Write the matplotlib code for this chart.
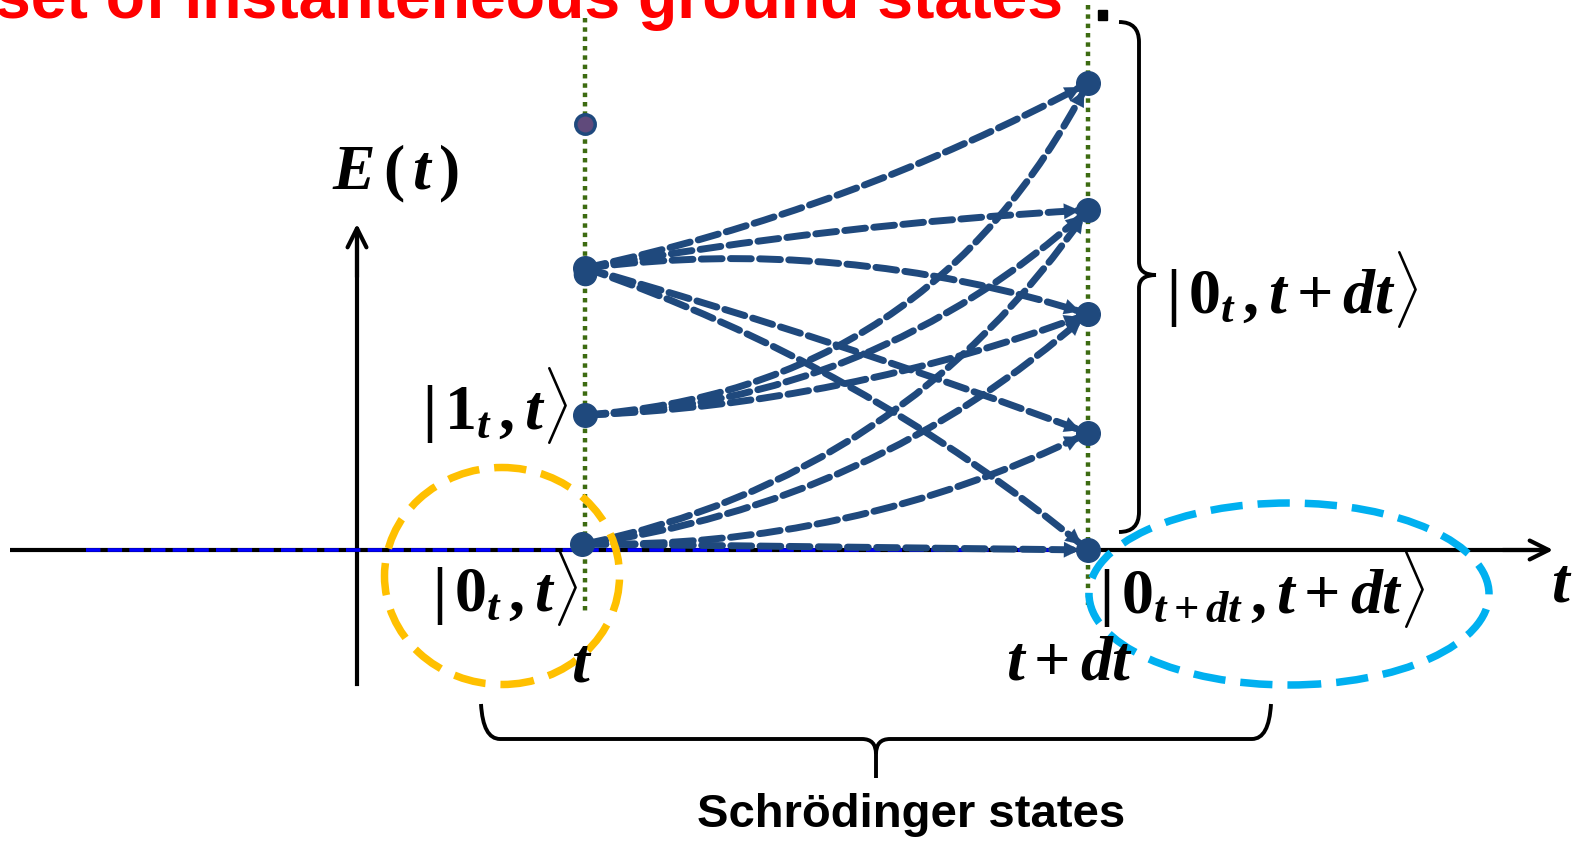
import matplotlib
matplotlib.use('Agg')
import matplotlib.pyplot as plt
from matplotlib.patches import FancyArrowPatch, Ellipse, PathPatch, Rectangle
from matplotlib.path import Path

plt.rcParams['mathtext.fontset'] = 'custom'
plt.rcParams['mathtext.rm'] = 'Liberation Serif:bold'
plt.rcParams['mathtext.it'] = 'Liberation Serif:bold:italic'
plt.rcParams['mathtext.bf'] = 'Liberation Serif:bold'

# ---------------- data ----------------
# energies (arbitrary units, 0 = ground level on the time axis)
left_levels = [6, 135, 282, 426]          # states at time t
right_levels = [0, 117, 236, 340, 467]    # states at time t+dt
# transitions between levels: (from left, to right, curvature)
edge_from = [2, 2, 2, 2, 2, 1, 1, 1, 0, 0, 0, 0]
edge_to   = [4, 3, 2, 1, 0, 4, 3, 2, 3, 2, 1, 0]
edge_curv = [0.07, -0.03, -0.11, -0.02, -0.09, 0.28, 0.18, 0.08, 0.2, 0.15, 0.12, 0.0]

title_text = "set of instanteneous ground states"
bottom_text = "Schrödinger states"
label_E = r'$E\,(\,t\,)$'
label_1t = r'$|\,1_{t}\,,t\rangle$'
label_0t = r'$|\,0_{t}\,,t\rangle$'
label_0t_dt = r'$|\,0_{t}\,,t+dt\rangle$'
label_0tdt = r'$|\,0_{t+dt}\,,t+dt\rangle$'
tick_t = r'$t$'
tick_tdt = r'$t+dt$'
axis_t = r'$t$'

# ---------------- layout ----------------
W, H = 1588, 841
AXIS_Y = 550          # pixel row of the time axis
X_T, X_TDT = 585, 1088
NODE_COLOR = '#1f497d'
GREEN = '#3d6b11'

def py(p):
    """pixel row -> energy coordinate"""
    return AXIS_Y - p

fig = plt.figure(figsize=(W / 100, H / 100), dpi=100)
ax = fig.add_axes([0, 0, 1, 1])
ax.set_xlim(0, W)
ax.set_ylim(AXIS_Y - H, AXIS_Y)
ax.axis('off')

# time axis
ax.plot([10, 1545], [0, 0], color='black', lw=3, zorder=2, solid_capstyle='butt')
ax.annotate('', xy=(1556, 0), xytext=(1500, 0),
            arrowprops=dict(arrowstyle='->', color='black', lw=3, mutation_scale=34), zorder=2)
ax.plot([86, X_TDT], [0, 0], color='#0000ff', lw=2.6, ls=(0, (4, 2)), zorder=3)
# energy axis
ax.plot([357, 357], [py(684), py(240)], color='black', lw=3, zorder=2)
ax.annotate('', xy=(357, py(221)), xytext=(357, py(280)),
            arrowprops=dict(arrowstyle='->', color='black', lw=3, mutation_scale=34), zorder=2)

# dotted time slices
ax.plot([X_T, X_T], [py(18), py(612)], color=GREEN, lw=3.2, ls=(0, (1, 1.1)), zorder=1)
ax.plot([X_TDT, X_TDT], [py(5), py(605)], color=GREEN, lw=3.2, ls=(0, (1, 1.1)), zorder=1)

# transitions
fig.canvas.draw()
to_disp = ax.transData
to_data = ax.transData.inverted()
for i, j, c in zip(edge_from, edge_to, edge_curv):
    A = (X_T, left_levels[i])
    B = (X_TDT, right_levels[j])
    a = FancyArrowPatch(A, B, arrowstyle='-', connectionstyle=f'arc3,rad={c}',
                        shrinkA=0, shrinkB=0, edgecolor=NODE_COLOR, facecolor='none',
                        linewidth=5.0, linestyle=(0, (3.0, 1.2)), zorder=4)
    ax.add_patch(a)
    # arrow head along end tangent
    (x1, y1), (x2, y2) = to_disp.transform([A, B])
    dx, dy = x2 - x1, y2 - y1
    cx, cy = (x1 + x2) / 2 + c * dy, (y1 + y2) / 2 - c * dx
    tx, ty = x2 - cx, y2 - cy
    n = (tx ** 2 + ty ** 2) ** 0.5
    P = to_data.transform((x2 - 30 * tx / n, y2 - 30 * ty / n))
    ax.annotate('', xy=B, xytext=P,
                arrowprops=dict(arrowstyle='-|>', color=NODE_COLOR, lw=0.1,
                                mutation_scale=28, shrinkA=0, shrinkB=6), zorder=4)

# nodes
ax.plot([X_T - 3, X_T, X_T], left_levels[:3], 'o', color=NODE_COLOR, ms=17, zorder=5)
ax.plot([X_T], [left_levels[2] - 6], 'o', color=NODE_COLOR, ms=16, zorder=5)
ax.plot([X_T], [left_levels[3]], 'o', mfc='#604a7b', mec=NODE_COLOR, mew=2.5, ms=14, zorder=5)
ax.plot([X_TDT] * len(right_levels), right_levels, 'o', color=NODE_COLOR, ms=17, zorder=5)

# dashed ellipses
ax.add_patch(Ellipse((502, py(576)), 235, 217, fill=False, ec='#ffc000', lw=5.4,
                     ls=(0, (4.3, 2.0)), zorder=6))
ax.add_patch(Ellipse((1289, py(594)), 400, 182, fill=False, ec='#00b0f0', lw=5.4,
                     ls=(0, (4.3, 2.0)), zorder=6))

# braces
def brace(points_codes):
    verts = [(x, py(y)) for (x, y), _ in points_codes]
    codes = [c for _, c in points_codes]
    return PathPatch(Path(verts, codes), fill=False, ec='black', lw=2.8, zorder=3)

M, L, C = Path.MOVETO, Path.LINETO, Path.CURVE3
ax.add_patch(brace([((1119, 22), M), ((1139, 22), C), ((1139, 42), C), ((1139, 262), L),
                    ((1139, 275), C), ((1156, 275), C)]))
ax.add_patch(brace([((1156, 275), M), ((1139, 275), C), ((1139, 288), C),
                    ((1139, 512), L), ((1139, 532), C), ((1119, 532), C)]))
ax.add_patch(brace([((481, 704), M), ((483, 739), C), ((500, 739), C), ((862, 739), L),
                    ((876, 739), C), ((876, 754), C), ((876, 778), L)]))
ax.add_patch(brace([((1271, 704), M), ((1269, 739), C), ((1252, 739), C), ((890, 739), L),
                    ((876, 739), C), ((876, 754), C)]))
ax.add_patch(Rectangle((1098, py(20)), 9, 10, color='black', zorder=3))

# texts
def fit_text(t, target_w):
    fig.canvas.draw()
    r = fig.canvas.get_renderer()
    w = t.get_window_extent(r).width
    t.set_fontsize(t.get_fontsize() * target_w / w)

tt = ax.text(-5, py(18), title_text, color='#ff0000', fontsize=40, fontweight='bold',
             family='Liberation Sans', ha='left', va='baseline', zorder=8)
fit_text(tt, 1068)
bt = ax.text(911, py(815), bottom_text, color='black', fontsize=30, fontweight='bold',
             family='Liberation Sans', ha='center', va='center', zorder=8)
fit_text(bt, 429)

fs = 46
ax.text(396, py(174), label_E, fontsize=fs, ha='center', va='center', zorder=8)
ax.text(495, py(405), label_1t, fontsize=fs, ha='center', va='center', zorder=8)
ax.text(505, py(587), label_0t, fontsize=fs, ha='center', va='center', zorder=8)
ax.text(1292, py(289), label_0t_dt, fontsize=fs, ha='center', va='center', zorder=8)
ax.text(1262, py(590), label_0tdt, fontsize=fs, ha='center', va='center', zorder=8)
ax.text(582, py(664), tick_t, fontsize=fs, ha='center', va='center', zorder=8)
ax.text(1070, py(662), tick_tdt, fontsize=fs, ha='center', va='center', zorder=8)
ax.text(1562, py(584), axis_t, fontsize=fs, ha='center', va='center', zorder=8)

fig.savefig('out.png', dpi=100)
